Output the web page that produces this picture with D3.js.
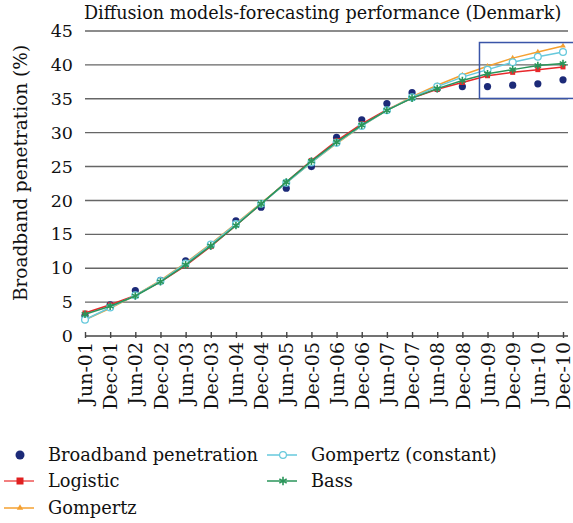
<!DOCTYPE html>
<html><head><meta charset="utf-8">
<script src="https://cdn.jsdelivr.net/npm/d3@7"></script>
<style>body{margin:0;background:#fff}svg{display:block}text{font-family:"DejaVu Serif","Liberation Serif",serif}</style>
</head><body><svg id="c" width="573" height="523"></svg>
<script>
const categories=["Jun-01","Dec-01","Jun-02","Dec-02","Jun-03","Dec-03","Jun-04","Dec-04","Jun-05","Dec-05","Jun-06","Dec-06","Jun-07","Dec-07","Jun-08","Dec-08","Jun-09","Dec-09","Jun-10","Dec-10"];
const broadband=[3.0,4.6,6.7,8.2,11.1,13.3,17.0,19.0,21.8,25.0,29.3,31.9,34.3,35.9,36.5,36.8,36.8,37.0,37.2,37.8];
const logistic=[3.4,4.6,6.0,8.0,10.4,13.2,16.3,19.5,22.7,25.9,28.8,31.3,33.4,35.1,36.4,37.4,38.4,38.9,39.3,39.7];
const gompertz=[2.4,4.1,6.0,8.2,10.8,13.6,16.6,19.6,22.6,25.6,28.4,31.0,33.3,35.3,37.0,38.5,39.8,41.0,41.9,42.8];
const gompertzC=[2.4,4.2,6.0,8.1,10.7,13.5,16.5,19.5,22.6,25.6,28.5,31.0,33.3,35.2,36.8,38.2,39.3,40.4,41.2,41.9];
const bass=[3.2,4.4,5.9,8.0,10.5,13.3,16.3,19.5,22.7,25.8,28.6,31.1,33.3,35.1,36.5,37.7,38.7,39.3,39.9,40.2];
const yTicks=[0,5,10,15,20,25,30,35,40,45];
const seriesNames=["Broadband penetration","Logistic","Gompertz","Gompertz (constant)","Bass"];
const colors={bb:"#1c2a78",log:"#e8282b",gom:"#f5a030",gomc:"#66c9dc",bass:"#2a955a",box:"#3a55a8"};

const svg=d3.select("#c");
const L=85,R=563,T=31,B=336;
const x=d3.scalePoint().domain(categories).range([L,R]);
const y=d3.scaleLinear().domain([0,45]).range([B,T]);
const step=x.step();

// gridlines
svg.append("g").selectAll("line").data(yTicks.filter(d=>d>0)).join("line")
 .attr("x1",L).attr("x2",R+5).attr("y1",d=>y(d)).attr("y2",d=>y(d))
 .attr("stroke","#666").attr("stroke-width",1.4);
// y labels
svg.append("g").selectAll("text").data(yTicks).join("text")
 .attr("x",L-12).attr("y",d=>y(d)).attr("dy","0.35em").attr("text-anchor","end")
 .attr("font-size",17.5).attr("fill","#111").text(d=>d);
// x axis
const xa=svg.append("g").attr("transform",`translate(0,${B})`)
 .call(d3.axisBottom(x).tickSizeInner(-4).tickSizeOuter(0).tickPadding(8));
xa.select(".domain").attr("stroke","#444").attr("stroke-width",1.6).attr("d",`M${L},0H${R+5}`);
xa.selectAll(".tick line").attr("stroke","#444").attr("stroke-width",1.4).attr("y1",2);
xa.selectAll(".tick text").attr("font-size",19).attr("fill","#111").attr("font-family","DejaVu Serif, serif")
 .attr("transform","rotate(-90)").attr("text-anchor","end").attr("x",-6).attr("y",0).attr("dy","0.35em");

// title
svg.append("text").attr("x",84).attr("y",19).attr("font-size",17.6).attr("fill","#111")
 .text("Diffusion models-forecasting performance (Denmark)");
// y title
svg.append("text").attr("transform",`translate(27,173) rotate(-90)`).attr("text-anchor","middle")
 .attr("font-size",18.5).attr("fill","#111").text("Broadband penetration (%)");

// broadband dots
svg.append("g").selectAll("circle").data(broadband).join("circle")
 .attr("cx",(d,i)=>x(categories[i])).attr("cy",d=>y(d)).attr("r",3.6).attr("fill",colors.bb);

const line=d3.line().x((d,i)=>x(categories[i])).y(d=>y(d));
function drawLine(data,col){svg.append("path").datum(data).attr("d",line).attr("fill","none").attr("stroke",col).attr("stroke-width",1.5);}
// logistic
drawLine(logistic,colors.log);
svg.append("g").selectAll("rect").data(logistic).join("rect")
 .attr("x",(d,i)=>x(categories[i])-2.5).attr("y",d=>y(d)-2.5).attr("width",5).attr("height",5).attr("fill",colors.log);
// gompertz
drawLine(gompertz,colors.gom);
const tri=d3.symbol().type(d3.symbolTriangle).size(14);
svg.append("g").selectAll("path").data(gompertz).join("path").attr("d",tri)
 .attr("transform",(d,i)=>`translate(${x(categories[i])},${y(d)})`).attr("fill",colors.gom);
// gompertz constant
drawLine(gompertzC,colors.gomc);
svg.append("g").selectAll("circle").data(gompertzC).join("circle")
 .attr("cx",(d,i)=>x(categories[i])).attr("cy",d=>y(d)).attr("r",3.4).attr("fill","#fff").attr("stroke",colors.gomc).attr("stroke-width",1.3);
// bass
drawLine(bass,colors.bass);
const star=d3.symbol().type(d3.symbolAsterisk).size(40);
svg.append("g").selectAll("path").data(bass).join("path").attr("d",star)
 .attr("transform",(d,i)=>`translate(${x(categories[i])},${y(d)})`).attr("fill","none").attr("stroke",colors.bass).attr("stroke-width",1.6);

// highlight box
svg.append("rect").attr("x",x("Dec-08")+step*0.68).attr("y",y(43.3)).attr("width",step*4)
 .attr("height",y(35.05)-y(43.3)).attr("fill","none").attr("stroke",colors.box).attr("stroke-width",1.5);

// legend
const leg=[
 {n:seriesNames[0],c:colors.bb,t:"dot",px:20,py:455},
 {n:seriesNames[1],c:colors.log,t:"sq",px:20,py:481},
 {n:seriesNames[2],c:colors.gom,t:"tri",px:20,py:508},
 {n:seriesNames[3],c:colors.gomc,t:"oc",px:283,py:455},
 {n:seriesNames[4],c:colors.bass,t:"star",px:283,py:481}];
leg.forEach(l=>{
 const g=svg.append("g").attr("transform",`translate(${l.px},${l.py})`);
 if(l.t!=="dot") g.append("line").attr("x1",-16).attr("x2",14).attr("stroke",l.t==="sq"?"#ee5555":l.c).attr("stroke-width",1.5);
 if(l.t==="dot") g.append("circle").attr("r",4.5).attr("fill",l.c);
 if(l.t==="sq") g.append("rect").attr("x",-3.5).attr("y",-3.5).attr("width",7).attr("height",7).attr("fill","#e02020");
 if(l.t==="tri") g.append("path").attr("d",d3.symbol().type(d3.symbolTriangle).size(18)).attr("fill",l.c);
 if(l.t==="oc") g.append("circle").attr("r",3.4).attr("fill","#fff").attr("stroke",l.c).attr("stroke-width",1.2);
 if(l.t==="star") g.append("path").attr("d",d3.symbol().type(d3.symbolAsterisk).size(50)).attr("fill","none").attr("stroke",l.c).attr("stroke-width",1.6);
 g.append("text").attr("x",28).attr("y",0).attr("dy","0.35em").attr("font-size",17.8).attr("fill","#111").text(l.n);
});
</script></body></html>
